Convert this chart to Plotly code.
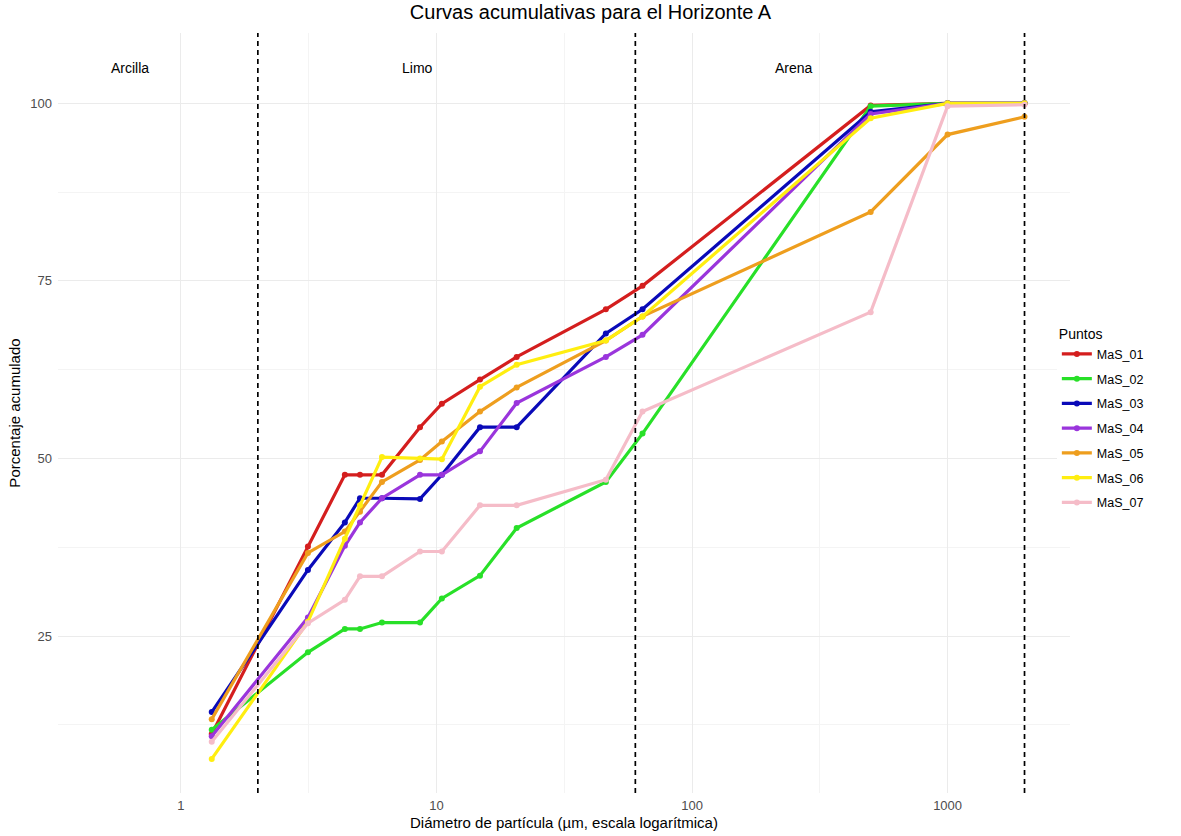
import math
import plotly.graph_objects as go

# ---- data ----
diametros = [1.32, 3.14, 4.38, 5.02, 6.12, 8.62, 10.5, 14.8, 20.6, 46, 64, 500, 1000, 2000]
MaS_01 = [11.2, 37.6, 47.7, 47.7, 47.7, 54.4, 57.7, 61.1, 64.3, 71.0, 74.3, 99.7, 100, 100]
MaS_02 = [11.8, 22.7, 26.0, 26.0, 26.9, 26.9, 30.3, 33.5, 40.2, 46.7, 53.5, 99.6, 100, 100]
MaS_03 = [14.3, 34.3, 41.0, 44.4, 44.4, 44.3, 47.7, 54.4, 54.4, 67.6, 71.0, 98.8, 100, 100]
MaS_04 = [10.9, 27.6, 37.7, 41.0, 44.4, 47.7, 47.7, 51.0, 57.8, 64.3, 67.4, 98.5, 100, 100]
MaS_05 = [13.3, 36.7, 39.7, 42.5, 46.7, 49.8, 52.4, 56.6, 60.0, 66.6, 70.0, 84.7, 95.6, 98.1]
MaS_06 = [7.7, 27.0, 38.7, 43.4, 50.2, 50.0, 49.9, 60.1, 63.2, 66.6, 70.0, 97.9, 100, 100]
MaS_07 = [10.1, 26.8, 30.1, 33.4, 33.4, 36.9, 36.9, 43.4, 43.4, 47.0, 56.6, 70.6, 99.6, 99.8]

series_names = ["MaS_01", "MaS_02", "MaS_03", "MaS_04", "MaS_05", "MaS_06", "MaS_07"]
series_values = [MaS_01, MaS_02, MaS_03, MaS_04, MaS_05, MaS_06, MaS_07]
colors = ["#D41E1E", "#28E028", "#0A0AB8", "#9A35DC", "#EE9E1E", "#FFEE10", "#F5BCC8"]

limites = [2, 60, 2000]
clases = ["Arcilla", "Limo", "Arena"]
clases_x = [0.632, 8.4, 250]
clases_y = 105

x_ticks = [1, 10, 100, 1000]
x_minor = [3.162, 31.62, 316.2, 3162]
y_ticks = [25, 50, 75, 100]
y_minor = [12.5, 37.5, 62.5, 87.5]

FONT = "Liberation Sans, Arial, sans-serif"

fig = go.Figure()
for name, vals, col in zip(series_names, series_values, colors):
    fig.add_trace(go.Scatter(
        x=diametros, y=vals, name=name, mode="lines+markers",
        line=dict(color=col, width=3.2), marker=dict(color=col, size=6),
        legendgroup=name,
    ))

for lim in limites:
    fig.add_shape(type="line", xref="x", yref="paper",
                  x0=lim, x1=lim, y0=0, y1=1,
                  line=dict(color="black", width=1.7, dash="5px,4px"))

for lab, xv in zip(clases, clases_x):
    fig.add_annotation(x=math.log10(xv), y=clases_y, text=lab, showarrow=False,
                       font=dict(family=FONT, size=14, color="black"))

grid_major = "#EBEBEB"
grid_minor = "#F4F4F4"

fig.update_layout(
    width=1181, height=836,
    margin=dict(l=58, r=111, t=33, b=43),
    paper_bgcolor="white", plot_bgcolor="white",
    font=dict(family=FONT, color="black"),
    title=dict(text="Curvas acumulativas para el Horizonte A", x=0.5, xanchor="center",
               y=0.986, yanchor="middle", font=dict(size=20, color="black")),
    xaxis=dict(
        type="log", range=[-0.481, 3.479], automargin=False,
        tickmode="array", tickvals=x_ticks, ticktext=[str(t) for t in x_ticks],
        showgrid=True, gridcolor=grid_major, gridwidth=1.4,
        minor=dict(tickmode="array", tickvals=x_minor, showgrid=True, gridcolor=grid_minor, gridwidth=0.8),
        zeroline=False, showline=False, ticks="", ticklabelstandoff=3,
        tickfont=dict(size=13, color="#4D4D4D"),
        title=dict(text="Diámetro de partícula (µm, escala logarítmica)", font=dict(size=15, color="black"), standoff=5),
    ),
    yaxis=dict(
        range=[2.9, 109.9], automargin=False,
        tickmode="array", tickvals=y_ticks, ticktext=[str(t) for t in y_ticks],
        showgrid=True, gridcolor=grid_major, gridwidth=1.4,
        minor=dict(tickmode="array", tickvals=y_minor, showgrid=True, gridcolor=grid_minor, gridwidth=0.8),
        zeroline=False, showline=False, ticks="", ticklabelstandoff=5,
        tickfont=dict(size=13, color="#4D4D4D"),
        title=dict(text="Porcentaje acumulado", font=dict(size=15, color="black"), standoff=6),
    ),
    legend=dict(
        title=dict(text="Puntos", font=dict(size=14, color="black")),
        x=0.987, xanchor="left", y=0.492, yanchor="middle",
        font=dict(size=12.5, color="black"),
        tracegroupgap=5.5,
        itemwidth=30,
    ),
    showlegend=True,
)

fig.write_html("out.html")
